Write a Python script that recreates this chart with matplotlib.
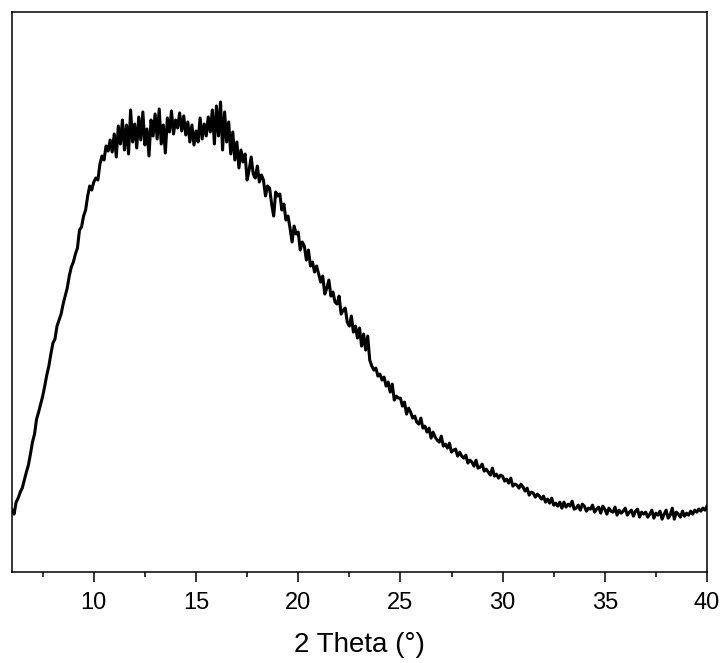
import numpy as np
import matplotlib
matplotlib.use("Agg")
import matplotlib.pyplot as plt
from matplotlib.ticker import MultipleLocator

plt.rcParams['font.family'] = ['Liberation Sans', 'DejaVu Sans']

# 2 theta from 6 to 40 in 0.1 steps, intensity in arbitrary units
two_theta = np.round(np.arange(6.0, 40.05, 0.1), 1)
intensity = [
    # 6.x
    62, 58, 70, 74, 80, 84, 92, 100, 107, 118,
    # 7.x
    130, 138, 153, 160, 168, 176, 186, 197, 206, 218,
    # 8.x
    229, 233, 246, 252, 258, 268, 276, 284, 296, 305,
    # 9.x
    310, 318, 324, 342, 345, 356, 362, 376, 386, 382,
    # 10.x
    390, 394, 392, 408, 416, 412, 426, 421, 432, 420,
    # 11.x
    438, 415, 446, 428, 452, 422, 447, 418, 462, 430,
    # 12.x
    448, 424, 455, 432, 460, 427, 443, 416, 452, 436,
    # 13.x
    458, 433, 463, 428, 447, 419, 454, 440, 461, 438,
    # 14.x
    452, 444, 459, 441, 456, 437, 450, 430, 447, 427,
    # 15.x
    441, 430, 454, 433, 448, 436, 455, 440, 462, 428,
    # 16.x
    466, 436, 470, 422, 460, 430, 450, 418, 440, 412,
    # 17.x
    430, 404, 422, 410, 418, 392, 402, 415, 398, 394,
    # 18.x
    406, 390, 397, 392, 376, 386, 384, 368, 356, 380,
    # 19.x
    376, 378, 362, 368, 352, 356, 344, 330, 346, 338,
    # 20.x
    340, 322, 330, 326, 312, 322, 306, 310, 300, 306,
    # 21.x
    298, 290, 296, 278, 284, 292, 276, 280, 270, 268,
    # 22.x
    276, 258, 262, 264, 250, 246, 256, 240, 246, 234,
    # 23.x
    244, 226, 238, 222, 236, 212, 206, 202, 204, 196,
    # 24.x
    198, 192, 195, 186, 190, 180, 188, 172, 176, 174,
    # 25.x
    174, 166, 170, 158, 164, 160, 154, 156, 150, 148,
    # 26.x
    154, 144, 146, 140, 144, 134, 140, 135, 132, 130,
    # 27.x
    136, 126, 128, 124, 129, 120, 122, 123, 116, 120,
    # 28.x
    116, 114, 117, 109, 112, 110, 106, 112, 104, 105,
    # 29.x
    108, 101, 103, 100, 97, 104, 96, 98, 94, 97,
    # 30.x
    96, 91, 93, 89, 94, 86, 88, 87, 84, 88,
    # 31.x
    85, 81, 84, 77, 80, 79, 75, 78, 76, 73,
    # 32.x
    76, 70, 73, 69, 74, 67, 69, 66, 70, 64,
    # 33.x
    70, 65, 68, 66, 71, 63, 64, 67, 62, 68,
    # 34.x
    66, 61, 64, 63, 67, 60, 63, 65, 59, 66,
    # 35.x
    63, 58, 64, 61, 60, 65, 57, 62, 59, 61,
    # 36.x
    64, 57, 60, 62, 56, 61, 63, 55, 60, 58,
    # 37.x
    60, 55, 58, 62, 54, 59, 57, 61, 53, 58,
    # 38.x
    62, 54, 57, 64, 53, 60, 58, 55, 61, 56,
    # 39.x
    59, 57, 61, 58, 62, 60, 63, 61, 64, 62,
    # 40.0
    66,
]

fig = plt.figure(figsize=(7.25, 6.63), dpi=100)
ax = fig.add_axes([0.0166, 0.137, 0.9586, 0.845])

ax.plot(two_theta, intensity, color='black', lw=2.2)

ax.set_xlim(6, 40)
ax.set_ylim(0, 560)
ax.xaxis.set_major_locator(MultipleLocator(5))
ax.xaxis.set_minor_locator(MultipleLocator(2.5))
ax.set_yticks([])
ax.tick_params(axis='x', which='major', direction='out', length=7, width=1.1,
               labelsize=17, pad=7)
ax.tick_params(axis='x', which='minor', direction='out', length=3.6, width=1.1)
for s in ax.spines.values():
    s.set_linewidth(1.1)

ax.set_xlabel('2 Theta (°)', fontsize=20, labelpad=13)

fig.savefig('out.png', dpi=100)
